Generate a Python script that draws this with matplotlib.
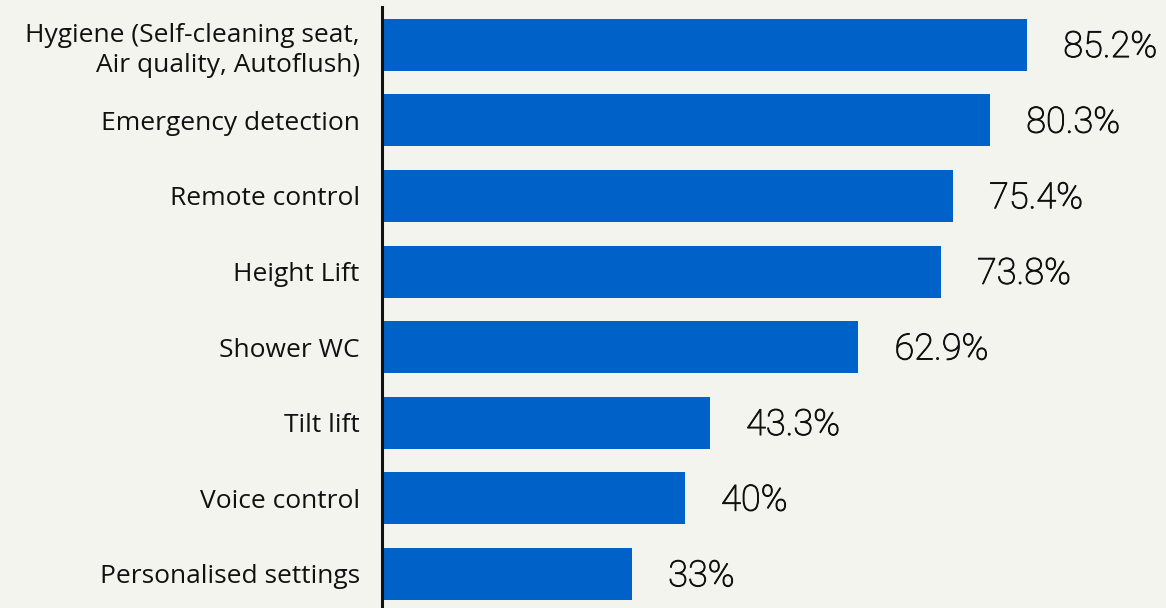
import matplotlib.pyplot as plt
import matplotlib.patheffects as pe

categories = [
    "Hygiene (Self-cleaning seat,\nAir quality, Autoflush)",
    "Emergency detection",
    "Remote control",
    "Height Lift",
    "Shower WC",
    "Tilt lift",
    "Voice control",
    "Personalised settings",
]
values = [85.2, 80.3, 75.4, 73.8, 62.9, 43.3, 40, 33]
value_labels = ["85.2%", "80.3%", "75.4%", "73.8%", "62.9%", "43.3%", "40%", "33%"]

bg = "#f4f4ef"
fig = plt.figure(figsize=(11.66, 6.08), dpi=100, facecolor=bg)
ax = fig.add_axes([382 / 1166, 0, 1 - 382 / 1166, 601 / 608])
ax.set_facecolor(bg)

y = list(range(len(categories)))
ax.barh(y, values, height=0.69, color="#0062c8")

for yi, v, lab in zip(y, values, value_labels):
    ax.text(v + 4.8, yi + 0.03, lab, va="center", ha="left", fontsize=26,
            family="Roboto", fontweight="light", color="#111111",
            path_effects=[pe.withStroke(linewidth=0.7, foreground="#111111")])

ax.set_xlim(0, (1166 - 382) / 7.57)
ax.set_ylim(7.45, -0.5)
ax.set_yticks(y)
ax.set_yticklabels(categories, fontsize=19, family="Open Sans", color="#111111",
                   linespacing=1.25)
ax.tick_params(axis="y", length=0, pad=16)
ax.set_xticks([])
for s in ["top", "right", "bottom"]:
    ax.spines[s].set_visible(False)
ax.spines["left"].set_linewidth(2.2)
ax.spines["left"].set_color("#111111")

fig.savefig("out.png", dpi=100, facecolor=bg)
